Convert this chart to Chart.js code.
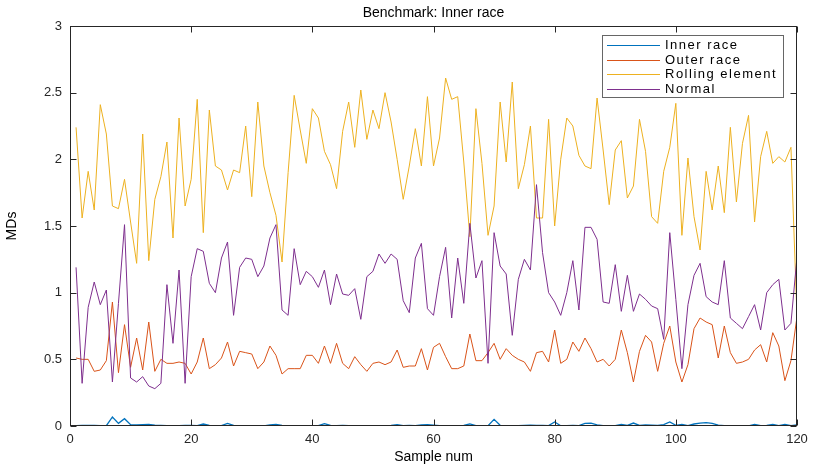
<!DOCTYPE html>
<html>
<head>
<meta charset="utf-8">
<script src="https://cdn.jsdelivr.net/npm/chart.js@4.4.0/dist/chart.umd.min.js"></script>
<style>
html, body { margin: 0; padding: 0; background: #fff; }
</style>
</head>
<body>
<canvas id="chart" width="816" height="470"></canvas>
<script>
// Data (sample 1..120)
const samples = Array.from({ length: 120 }, (_, i) => i + 1);

const innerRace = [
  0.003, 0.004, 0.005, 0.004, 0.003, 0.002, 0.068, 0.020, 0.055, 0.010,
  0.008, 0.010, 0.012, 0.006, 0.004, 0.002, 0.001, 0.003, 0.005, 0.004,
  0.003, 0.015, 0.004, 0.002, 0.003, 0.020, 0.004, 0.003, 0.003, 0.002,
  0.003, 0.001, 0.008, 0.012, 0.005, 0.002, 0.003, 0.002, 0.002, 0.003,
  0.002, 0.018, 0.004, 0.003, 0.004, 0.002, 0.003, 0.002, 0.001, 0.002,
  0.002, 0.003, 0.004, 0.010, 0.003, 0.004, 0.003, 0.008, 0.010, 0.006,
  0.003, 0.002, 0.002, 0.003, 0.004, 0.016, 0.003, 0.001, 0.002, 0.050,
  0.005, 0.003, 0.002, 0.002, 0.004, 0.006, 0.005, 0.004, 0.003, 0.030,
  0.002, 0.003, 0.004, 0.003, 0.020, 0.022, 0.008, 0.002, 0.001, 0.002,
  0.012, 0.004, 0.022, 0.004, 0.008, 0.007, 0.005, 0.010, 0.030, 0.005,
  0.012, 0.003, 0.015, 0.022, 0.025, 0.020, 0.006, 0.003, 0.002, 0.003,
  0.002, 0.001, 0.012, 0.002, 0.004, 0.012, 0.003, 0.012, 0.003, 0.008
];

const outerRace = [
  0.51, 0.50, 0.50, 0.41, 0.42, 0.49, 0.93, 0.40, 0.76, 0.44,
  0.66, 0.42, 0.78, 0.41, 0.50, 0.47, 0.47, 0.48, 0.47, 0.39,
  0.48, 0.66, 0.43, 0.46, 0.51, 0.63, 0.45, 0.56, 0.55, 0.54,
  0.43, 0.48, 0.60, 0.53, 0.39, 0.43, 0.43, 0.43, 0.53, 0.53,
  0.47, 0.60, 0.47, 0.62, 0.47, 0.43, 0.52, 0.46, 0.41, 0.47,
  0.48, 0.46, 0.48, 0.57, 0.44, 0.45, 0.45, 0.58, 0.42, 0.59,
  0.62, 0.52, 0.43, 0.43, 0.45, 0.69, 0.49, 0.49, 0.55, 0.62,
  0.50, 0.58, 0.53, 0.50, 0.48, 0.41, 0.55, 0.56, 0.48, 0.72,
  0.47, 0.50, 0.63, 0.56, 0.66, 0.58, 0.48, 0.50, 0.45, 0.50,
  0.72, 0.55, 0.33, 0.56, 0.68, 0.63, 0.41, 0.62, 0.75, 0.48,
  0.33, 0.46, 0.73, 0.81, 0.78, 0.76, 0.51, 0.75, 0.55, 0.47,
  0.48, 0.50, 0.57, 0.61, 0.48, 0.70, 0.60, 0.34, 0.49, 0.82
];

const rollingElement = [
  2.24, 1.56, 1.91, 1.62, 2.41, 2.19, 1.65, 1.63, 1.85, 1.53,
  1.22, 2.19, 1.24, 1.70, 1.87, 2.13, 1.41, 2.31, 1.65, 1.85,
  2.45, 1.45, 2.37, 1.95, 1.92, 1.77, 1.92, 1.90, 2.25, 1.72,
  2.43, 1.95, 1.75, 1.58, 1.23, 1.90, 2.48, 2.22, 1.97, 2.38,
  2.31, 2.06, 1.96, 1.78, 2.21, 2.43, 2.09, 2.52, 2.15, 2.37,
  2.23, 2.50, 2.28, 2.00, 1.70, 1.95, 2.23, 1.95, 2.47, 1.95,
  2.16, 2.61, 2.45, 2.47, 1.98, 1.42, 2.38, 1.97, 1.43, 1.65,
  2.43, 1.98, 2.58, 1.78, 1.96, 2.25, 1.56, 1.56, 2.30, 1.50,
  2.00, 2.31, 2.25, 2.03, 1.95, 1.93, 2.46, 2.07, 1.66, 2.07,
  2.14, 1.71, 1.80, 2.30, 2.06, 1.57, 1.52, 1.91, 2.09, 2.42,
  1.43, 2.01, 1.57, 1.32, 1.91, 1.62, 1.95, 1.60, 2.24, 1.68,
  2.12, 2.33, 1.53, 2.02, 2.21, 1.97, 2.02, 1.98, 2.09, 0.82
];

const normal = [
  1.19, 0.32, 0.89, 1.08, 0.91, 1.02, 0.33, 0.92, 1.51, 0.36,
  0.33, 0.37, 0.30, 0.28, 0.32, 1.06, 0.62, 1.17, 0.32, 1.12,
  1.33, 1.31, 1.07, 1.00, 1.26, 1.38, 0.83, 1.19, 1.26, 1.25,
  1.12, 1.20, 1.41, 1.51, 0.87, 0.83, 1.33, 1.06, 1.16, 1.12,
  1.04, 1.17, 0.91, 1.14, 0.99, 0.98, 1.03, 0.80, 1.12, 1.16,
  1.29, 1.22, 1.29, 1.25, 0.94, 0.85, 1.26, 1.37, 0.88, 0.83,
  1.12, 1.34, 0.81, 1.26, 0.92, 1.52, 1.11, 1.24, 0.47, 1.45,
  1.20, 1.14, 0.68, 1.10, 1.25, 1.17, 1.81, 1.30, 1.00, 0.93,
  0.83, 1.00, 1.24, 0.87, 1.49, 1.49, 1.40, 0.93, 0.92, 1.21,
  0.86, 1.13, 0.86, 0.99, 0.95, 0.90, 0.88, 0.65, 1.45, 0.95,
  0.43, 0.91, 1.13, 1.22, 0.97, 0.93, 0.91, 1.24, 0.81, 0.77,
  0.73, 0.82, 0.91, 0.72, 1.00, 1.06, 1.10, 0.72, 0.77, 1.27
];

const seriesNames = ['Inner race', 'Outer race', 'Rolling element', 'Normal'];
const seriesColors = ['#0072BD', '#D95319', '#EDB120', '#7E2F8E'];
const seriesValues = [innerRace, outerRace, rollingElement, normal];

const xTicks = [0, 20, 40, 60, 80, 100, 120];
const yTicks = [0, 0.5, 1, 1.5, 2, 2.5, 3];

const FONT = '"Liberation Sans", Arial, Helvetica, sans-serif';
const AXIS_COLOR = '#262626';

// Caja, ticks hacia dentro, título y leyenda estilo MATLAB
const matlabAxes = {
  id: 'matlabAxes',
  afterDraw(chart) {
    const ctx = chart.ctx;
    const a = chart.chartArea;
    const xs = chart.scales.x;
    const ys = chart.scales.y;
    const L = Math.round(a.left) + 0.5, R = Math.round(a.right) - 0.5;
    const T = Math.round(a.top) + 0.5, B = Math.round(a.bottom) - 0.5;
    ctx.save();
    ctx.strokeStyle = AXIS_COLOR;
    ctx.lineWidth = 1;
    ctx.strokeRect(L, T, R - L, B - T);

    ctx.beginPath();
    xTicks.forEach(v => {
      const px = Math.round(xs.getPixelForValue(v)) + 0.5;
      ctx.moveTo(px, B); ctx.lineTo(px, B - 6);
      ctx.moveTo(px, T); ctx.lineTo(px, T + 6);
    });
    yTicks.forEach(v => {
      const py = Math.round(ys.getPixelForValue(v)) + 0.5;
      ctx.moveTo(L, py); ctx.lineTo(L + 6, py);
      ctx.moveTo(R, py); ctx.lineTo(R - 6, py);
    });
    ctx.stroke();

    // Título
    ctx.fillStyle = '#000';
    ctx.font = '14px ' + FONT;
    ctx.textAlign = 'center';
    ctx.textBaseline = 'middle';
    ctx.fillText('Benchmark: Inner race', (a.left + a.right) / 2, 13);

    // Leyenda
    const lx = 602.5, ly = 35.5, lw = 181, lh = 62;
    ctx.fillStyle = '#fff';
    ctx.fillRect(lx, ly, lw, lh);
    ctx.strokeStyle = '#666';
    ctx.strokeRect(lx, ly, lw, lh);
    ctx.font = '13px ' + FONT;
    ctx.textAlign = 'left';
    ctx.letterSpacing = '1.5px';
    seriesNames.forEach((name, i) => {
      const y = 45 + i * 14.7;
      ctx.fillStyle = chart.data.datasets[i].borderColor;
      ctx.fillRect(607, Math.round(y), 53, 1);
      ctx.fillStyle = '#000';
      ctx.fillText(name, 665, y + 0.5);
    });
    ctx.restore();
  }
};

const datasets = seriesNames.map((name, i) => ({
  label: name,
  data: samples.map((s, j) => ({ x: s, y: seriesValues[i][j] })),
  borderColor: seriesColors[i],
  backgroundColor: seriesColors[i],
  borderWidth: i === 0 ? 1.3 : 1,
  pointRadius: 0,
  tension: 0,
  fill: false,
  order: 4 - i
}));

new Chart(document.getElementById('chart'), {
  type: 'line',
  data: { datasets: datasets },
  options: {
    responsive: false,
    animation: false,
    devicePixelRatio: 1,
    layout: { padding: { top: 26, right: 19, left: 0, bottom: 0 } },
    plugins: {
      legend: { display: false },
      title: { display: false },
      tooltip: { enabled: false }
    },
    scales: {
      x: {
        type: 'linear',
        min: 0,
        max: 120,
        afterFit: s => { s.height = 44; },
        afterBuildTicks: s => { s.ticks = xTicks.map(v => ({ value: v })); },
        grid: { display: false, drawTicks: false },
        border: { display: false },
        ticks: { color: AXIS_COLOR, font: { family: FONT, size: 13 }, padding: 6, maxRotation: 0, callback: v => String(v) },
        title: { display: true, text: 'Sample num', color: '#000', font: { family: FONT, size: 14 }, padding: { top: 0, bottom: 4 } }
      },
      y: {
        min: 0,
        max: 3,
        afterFit: s => { s.width = 70; },
        afterBuildTicks: s => { s.ticks = yTicks.map(v => ({ value: v })); },
        grid: { display: false, drawTicks: false },
        border: { display: false },
        ticks: { color: AXIS_COLOR, font: { family: FONT, size: 13 }, padding: 8, callback: v => String(v) },
        title: { display: true, text: 'MDs', color: '#000', font: { family: FONT, size: 14 }, padding: { top: 4, bottom: 0 } }
      }
    }
  },
  plugins: [matlabAxes]
});
</script>
</body>
</html>
